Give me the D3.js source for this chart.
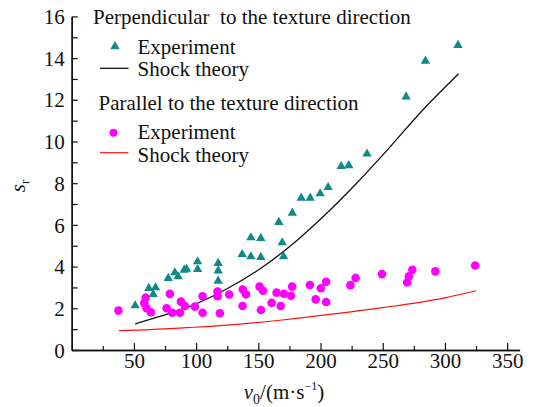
<!DOCTYPE html>
<html><head><meta charset="utf-8">
<script src="https://cdn.jsdelivr.net/npm/d3@7"></script>
</head><body style="margin:0">
<svg id="chart" width="539" height="407" font-family="Liberation Serif" style="font-family:'Liberation Serif'"></svg>
<script>
// Perpendicular to the texture direction — experiment
const perpX = [51, 62, 67.4, 65.5, 77.6, 82.9, 85.6, 90.4, 92.3, 101.2, 101.2, 117.7, 117.7, 117.7, 137, 144, 144, 152, 152, 166.5, 169.2, 170.3, 177.3, 184.5, 191.7, 199.7, 206.1, 216.6, 222.7, 237.3, 268.8, 284.3, 310.5];
const perpY = [2.13, 2.96, 2.99, 2.67, 3.44, 3.71, 3.52, 3.84, 3.88, 4.24, 3.87, 4.16, 3.8, 3.31, 4.59, 4.48, 5.39, 5.36, 4.45, 6.13, 5.15, 4.48, 6.57, 7.29, 7.29, 7.5, 7.8, 8.81, 8.85, 9.41, 12.15, 13.86, 14.62];
// Perpendicular — shock theory
const shockPerpX = [51, 70, 96, 123, 150, 175, 202, 229, 256, 282, 311];
const shockPerpY = [1.25, 1.6, 2.12, 2.88, 3.84, 4.95, 6.39, 8.0, 9.75, 11.5, 13.25];
// Parallel to the texture direction — experiment
const parX = [37.6, 59.4, 58.3, 60.2, 63.7, 78.9, 76.3, 80.8, 87.8, 87, 91, 99, 105.2, 105.2, 117.2, 117.2, 119.1, 126.6, 137.5, 140, 137.3, 151, 153.8, 152.1, 160.7, 164.7, 170.6, 168, 176.2, 177.2, 191.4, 200.3, 204.5, 196.1, 204.5, 224, 228.2, 249.4, 269.6, 271, 273.8, 292.3, 324.3];
const parY = [1.89, 2.51, 2.24, 2.0, 1.81, 2.69, 2.0, 1.79, 2.32, 1.79, 2.11, 2.08, 2.58, 1.79, 2.8, 2.58, 1.76, 2.66, 2.9, 2.67, 2.11, 3.04, 2.84, 1.92, 2.26, 2.75, 2.7, 2.11, 2.6, 3.04, 3.12, 2.96, 3.27, 2.43, 2.3, 3.11, 3.45, 3.64, 3.24, 3.53, 3.85, 3.77, 4.05];
// Parallel — shock theory
const shockParX = [38, 60, 95, 131, 171, 211, 250, 300, 325];
const shockParY = [0.93, 0.97, 1.08, 1.22, 1.45, 1.73, 2.03, 2.5, 2.84];

const xMajor = [50, 100, 150, 200, 250, 300, 350];
const xMinor = [25, 75, 125, 175, 225, 275, 325];
const yMajor = [0, 2, 4, 6, 8, 10, 12, 14, 16];
const yMinor = [1, 3, 5, 7, 9, 11, 13, 15];

const teal = "#0f8a88", magenta = "#ff00ff", red = "#ff1010";
const FS = 21;

const svg = d3.select("#chart");
const x = d3.scaleLinear().domain([0, 360]).range([71.7, 519.6]);
const y = d3.scaleLinear().domain([0, 16]).range([350, 16.4]);

// theory lines
const line = d3.line().x(d => x(d[0])).y(d => y(d[1])).curve(d3.curveMonotoneX);
svg.append("path").datum(shockParX.map((v, i) => [v, shockParY[i]]))
  .attr("d", line).attr("fill", "none").attr("stroke", red).attr("stroke-width", 1.2);
svg.append("path").datum(shockPerpX.map((v, i) => [v, shockPerpY[i]]))
  .attr("d", line).attr("fill", "none").attr("stroke", "#111").attr("stroke-width", 1.3);

// points
svg.append("g").selectAll("circle").data(parX.map((v, i) => [v, parY[i]])).join("circle")
  .attr("cx", d => x(d[0])).attr("cy", d => y(d[1])).attr("r", 4.3).attr("fill", magenta);
const tri = d3.symbol().type(d3.symbolTriangle).size(38);
svg.append("g").selectAll("path").data(perpX.map((v, i) => [v, perpY[i]])).join("path")
  .attr("d", tri).attr("transform", d => `translate(${x(d[0])},${y(d[1])})`).attr("fill", teal);

// axes
const gx = svg.append("g").attr("transform", `translate(0,${y(0)})`);
gx.call(d3.axisBottom(x).tickValues(xMinor).tickSize(-4).tickSizeOuter(0).tickFormat(""));
gx.append("g").call(d3.axisBottom(x).tickValues(xMajor).tickSize(-7).tickSizeOuter(0));
gx.selectAll(".domain").attr("stroke", "#111").attr("stroke-width", 1.4);
gx.selectAll(".tick line").attr("stroke", "#111").attr("stroke-width", 1.2);
gx.selectAll(".tick text").attr("y", 18).attr("dy", 0);

const gy = svg.append("g").attr("transform", `translate(${x(0)},0)`);
gy.call(d3.axisLeft(y).tickValues(yMinor).tickSize(-6).tickSizeOuter(0).tickFormat(""));
gy.append("g").call(d3.axisLeft(y).tickValues(yMajor).tickSize(-6).tickSizeOuter(0));
gy.selectAll(".domain").attr("stroke", "#111").attr("stroke-width", 1.4);
gy.selectAll(".tick line").attr("stroke", "#111").attr("stroke-width", 1.2);
gy.selectAll(".tick text").attr("x", -7).attr("dy", "0.34em");
svg.selectAll("g").attr("font-family", "Liberation Serif").attr("font-size", FS);

// legend
const lg = svg.append("g").attr("font-family", "Liberation Serif").attr("font-size", FS);
lg.append("text").attr("x", 93).attr("y", 24).text("Perpendicular\u00a0 to the texture direction");
lg.append("path").attr("d", tri).attr("transform", "translate(115,46.5)").attr("fill", teal);
lg.append("text").attr("x", 137.5).attr("y", 53.5).text("Experiment");
lg.append("line").attr("x1", 100).attr("x2", 128.5).attr("y1", 68.3).attr("y2", 68.3).attr("stroke", "#111").attr("stroke-width", 1.3);
lg.append("text").attr("x", 137.5).attr("y", 76).text("Shock theory");
lg.append("text").attr("x", 98.5).attr("y", 110).text("Parallel to the texture direction");
lg.append("circle").attr("cx", 113.5).attr("cy", 132.7).attr("r", 4).attr("fill", magenta);
lg.append("text").attr("x", 137.5).attr("y", 138.5).text("Experiment");
lg.append("line").attr("x1", 100).attr("x2", 128.5).attr("y1", 152.7).attr("y2", 152.7).attr("stroke", red).attr("stroke-width", 1.2);
lg.append("text").attr("x", 137.5).attr("y", 161.7).text("Shock theory");

// x title
const xt = svg.append("text").attr("x", 284).attr("y", 399).attr("text-anchor", "middle");
xt.append("tspan").attr("font-style", "italic").text("v");
xt.append("tspan").attr("font-size", 14).attr("dy", 5).text("0");
xt.append("tspan").attr("dy", -5).text("/(m\u00b7s");
xt.append("tspan").attr("font-size", 12).attr("dy", -9).text("\u22121");
xt.append("tspan").attr("dy", 9).text(")");

// y title
const yt = svg.append("text").attr("transform", "translate(25,186) rotate(-90)").attr("text-anchor", "middle");
yt.append("tspan").attr("font-style", "italic").text("s");
yt.append("tspan").attr("font-size", 13).attr("dy", 4).text("r");

svg.selectAll("text").attr("font-family", "Liberation Serif").attr("fill", "#111")
  .each(function () { if (!this.getAttribute("font-size")) this.setAttribute("font-size", FS); });
</script>
</body></html>
